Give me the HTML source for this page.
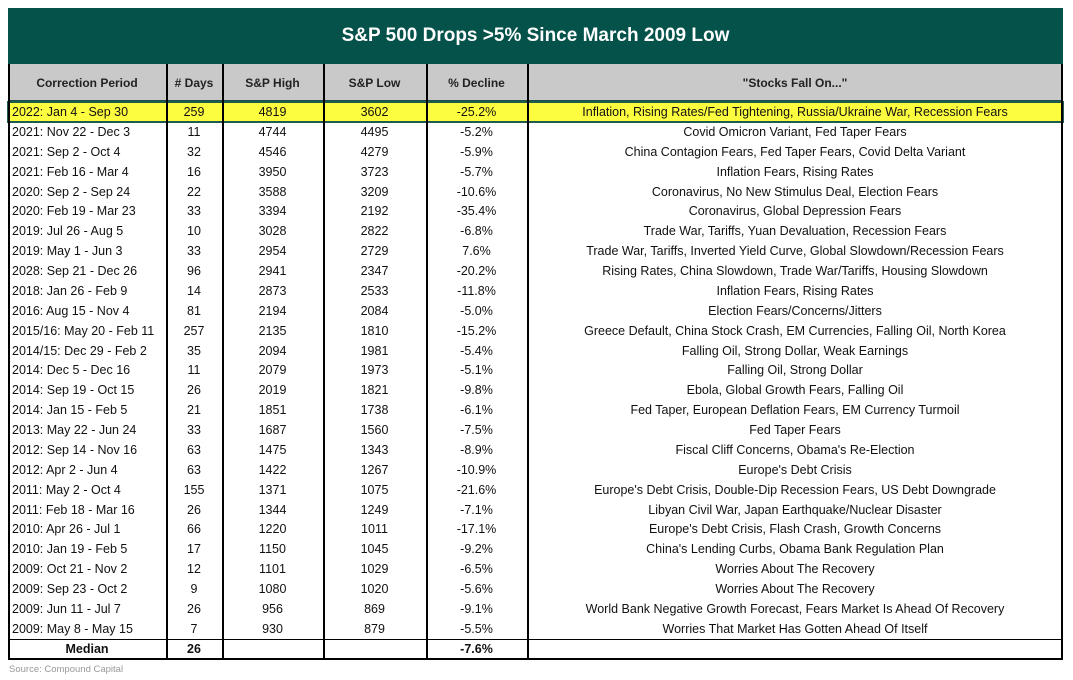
<!DOCTYPE html>
<html><head><meta charset="utf-8"><style>
body{margin:0;width:1073px;height:680px;background:#fff;font-family:"Liberation Sans",sans-serif;position:relative;overflow:hidden}
.title{position:absolute;left:8px;top:8px;width:1055px;height:56px;background:#04524a;color:#fff;font-weight:bold;font-size:19px;text-align:center;line-height:56px}
.hdr{position:absolute;left:8px;top:64px;width:1055px;height:36px;background:#c9c9c9;border-bottom:2px solid #1f4e47}
.row{position:absolute;left:8px;width:1055px;height:20px;font-size:12.5px;color:#111}
.c{position:absolute;top:0;height:100%;line-height:20px;text-align:center;white-space:nowrap;overflow:hidden}
.hdr .c{line-height:38px;font-weight:bold;font-size:12px;color:#222}
.vl{position:absolute;top:64px;height:596px;width:1.5px;background:#000}
.hl{background:#fdfd40;outline:2.5px solid #1f5c50;outline-offset:-1px}
</style></head><body>
<div class="title">S&amp;P 500 Drops &gt;5% Since March 2009 Low</div>
<div class="hdr">
<div class="c" style="left:0;width:158px">Correction Period</div>
<div class="c" style="left:158px;width:56px"># Days</div>
<div class="c" style="left:214px;width:101px">S&amp;P High</div>
<div class="c" style="left:315px;width:103px">S&amp;P Low</div>
<div class="c" style="left:418px;width:101px">% Decline</div>
<div class="c" style="left:519px;width:536px">"Stocks Fall On..."</div>
</div>
<div id="rows"></div>
<div style="position:absolute;left:8px;top:639px;width:1055px;height:1px;background:#000"></div>
<div style="position:absolute;left:8px;top:658px;width:1055px;height:2px;background:#000"></div>
<div style="position:absolute;left:8px;top:64px;width:2px;height:596px;background:#000"></div>
<div style="position:absolute;left:1061px;top:64px;width:2px;height:596px;background:#000"></div>
<div class="vl" style="left:166px"></div>
<div class="vl" style="left:222px"></div>
<div class="vl" style="left:323px"></div>
<div class="vl" style="left:426px"></div>
<div class="vl" style="left:527px"></div>
<div style="position:absolute;left:9px;top:664px;font-size:9.5px;color:#999">Source: Compound Capital</div>
<script>
var d=[
["2022: Jan 4 - Sep 30","259","4819","3602","-25.2%","Inflation, Rising Rates/Fed Tightening, Russia/Ukraine War, Recession Fears"],
["2021: Nov 22 - Dec 3","11","4744","4495","-5.2%","Covid Omicron Variant, Fed Taper Fears"],
["2021: Sep 2 - Oct 4","32","4546","4279","-5.9%","China Contagion Fears, Fed Taper Fears, Covid Delta Variant"],
["2021: Feb 16 - Mar 4","16","3950","3723","-5.7%","Inflation Fears, Rising Rates"],
["2020: Sep 2 - Sep 24","22","3588","3209","-10.6%","Coronavirus, No New Stimulus Deal, Election Fears"],
["2020: Feb 19 - Mar 23","33","3394","2192","-35.4%","Coronavirus, Global Depression Fears"],
["2019: Jul 26 - Aug 5","10","3028","2822","-6.8%","Trade War, Tariffs, Yuan Devaluation, Recession Fears"],
["2019: May 1 - Jun 3","33","2954","2729","7.6%","Trade War, Tariffs, Inverted Yield Curve, Global Slowdown/Recession Fears"],
["2028: Sep 21 - Dec 26","96","2941","2347","-20.2%","Rising Rates, China Slowdown, Trade War/Tariffs, Housing Slowdown"],
["2018: Jan 26 - Feb 9","14","2873","2533","-11.8%","Inflation Fears, Rising Rates"],
["2016: Aug 15 - Nov 4","81","2194","2084","-5.0%","Election Fears/Concerns/Jitters"],
["2015/16: May 20 - Feb 11","257","2135","1810","-15.2%","Greece Default, China Stock Crash, EM Currencies, Falling Oil, North Korea"],
["2014/15: Dec 29 - Feb 2","35","2094","1981","-5.4%","Falling Oil, Strong Dollar, Weak Earnings"],
["2014: Dec 5 - Dec 16","11","2079","1973","-5.1%","Falling Oil, Strong Dollar"],
["2014: Sep 19 - Oct 15","26","2019","1821","-9.8%","Ebola, Global Growth Fears, Falling Oil"],
["2014: Jan 15 - Feb 5","21","1851","1738","-6.1%","Fed Taper, European Deflation Fears, EM Currency Turmoil"],
["2013: May 22 - Jun 24","33","1687","1560","-7.5%","Fed Taper Fears"],
["2012: Sep 14 - Nov 16","63","1475","1343","-8.9%","Fiscal Cliff Concerns, Obama's Re-Election"],
["2012: Apr 2 - Jun 4","63","1422","1267","-10.9%","Europe's Debt Crisis"],
["2011: May 2 - Oct 4","155","1371","1075","-21.6%","Europe's Debt Crisis, Double-Dip Recession Fears, US Debt Downgrade"],
["2011: Feb 18 - Mar 16","26","1344","1249","-7.1%","Libyan Civil War, Japan Earthquake/Nuclear Disaster"],
["2010: Apr 26 - Jul 1","66","1220","1011","-17.1%","Europe's Debt Crisis, Flash Crash, Growth Concerns"],
["2010: Jan 19 - Feb 5","17","1150","1045","-9.2%","China's Lending Curbs, Obama Bank Regulation Plan"],
["2009: Oct 21 - Nov 2","12","1101","1029","-6.5%","Worries About The Recovery"],
["2009: Sep 23 - Oct 2","9","1080","1020","-5.6%","Worries About The Recovery"],
["2009: Jun 11 - Jul 7","26","956","869","-9.1%","World Bank Negative Growth Forecast, Fears Market Is Ahead Of Recovery"],
["2009: May 8 - May 15","7","930","879","-5.5%","Worries That Market Has Gotten Ahead Of Itself"]];
var h="";
d.forEach(function(r,i){
var t=102+i*19.88;
h+='<div class="row'+(i==0?' hl':'')+'" style="top:'+t+'px">'+
'<div class="c" style="left:4px;width:154px;text-align:left">'+r[0]+'</div>'+
'<div class="c" style="left:158px;width:56px">'+r[1]+'</div>'+
'<div class="c" style="left:214px;width:101px">'+r[2]+'</div>'+
'<div class="c" style="left:315px;width:103px">'+r[3]+'</div>'+
'<div class="c" style="left:418px;width:101px">'+r[4]+'</div>'+
'<div class="c" style="left:519px;width:536px">'+r[5]+'</div></div>';
});
h+='<div class="row" style="top:640px;font-weight:bold;height:19px"><div class="c" style="left:0;width:158px;line-height:19px">Median</div><div class="c" style="left:158px;width:56px;line-height:19px">26</div><div class="c" style="left:418px;width:101px;line-height:19px">-7.6%</div></div>';
document.getElementById("rows").innerHTML=h;
</script>
</body></html>
